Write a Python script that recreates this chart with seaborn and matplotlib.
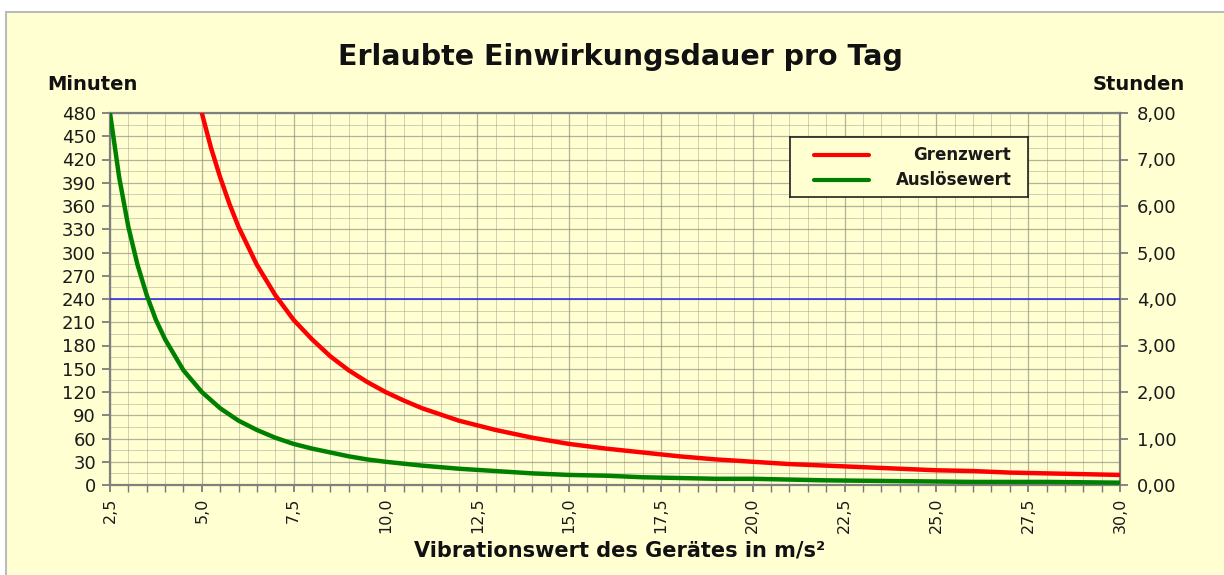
"""
Erlaubte Einwirkungsdauer pro Tag - Grenzwert / Auslösewert
"""
import numpy as np
import pandas as pd
import matplotlib
matplotlib.use("Agg")
import matplotlib.pyplot as plt
from matplotlib.patches import Rectangle
from matplotlib.ticker import MultipleLocator, FuncFormatter
import seaborn as sns

# Werte (Minuten)
grenz_a = [5.0, 5.25, 5.5, 5.75, 6.0, 6.5, 7.0, 7.5, 8.0, 8.5, 9.0, 9.5, 10.0,
           10.5, 11.0, 11.5, 12.0, 13.0, 14.0, 15.0, 16.0, 17.0, 18.0, 19.0,
           20.0, 21.0, 22.0, 23.0, 24.0, 25.0, 26.0, 27.0, 28.0, 29.0, 30.0]
grenz_min = [480, 435, 397, 363, 333, 284, 245, 213, 188, 166, 148, 133, 120,
             109, 99, 91, 83, 71, 61, 53, 47, 42, 37, 33,
             30, 27, 25, 23, 21, 19, 18, 16, 15, 14, 13]

ausl_a = [2.5, 2.75, 3.0, 3.25, 3.5, 3.75, 4.0, 4.5, 5.0, 5.5, 6.0, 6.5, 7.0,
          7.5, 8.0, 8.5, 9.0, 9.5, 10.0, 11.0, 12.0, 13.0, 14.0, 15.0, 16.0,
          17.0, 18.0, 19.0, 20.0, 22.0, 24.0, 26.0, 28.0, 30.0]
ausl_min = [480, 397, 333, 284, 245, 213, 188, 148, 120, 99, 83, 71, 61,
            53, 47, 42, 37, 33, 30, 25, 21, 18, 15, 13, 12,
            10, 9, 8, 8, 6, 5, 4, 4, 3]

grenze_linie = 240  # 4 Stunden

x_ticks = [2.5, 5.0, 7.5, 10.0, 12.5, 15.0, 17.5, 20.0, 22.5, 25.0, 27.5, 30.0]

BG = "#FFFFD2"
TXT = "#1A1A1A"

sns.set_theme(style="ticks")
plt.rcParams["font.family"] = ["DejaVu Sans"]

df = pd.concat([
    pd.DataFrame({"a": grenz_a, "min": grenz_min, "Reihe": "Grenzwert"}),
    pd.DataFrame({"a": ausl_a, "min": ausl_min, "Reihe": "Auslösewert"}),
])

fig = plt.figure(figsize=(12.24, 5.75), dpi=100, facecolor="white")
fig.patches.append(Rectangle((6 / 1224, -0.01), 1.0, 1 - 12 / 575 + 0.01,
                             transform=fig.transFigure, facecolor=BG,
                             edgecolor="#BBBBBB", linewidth=1.5, zorder=-10))

ax = fig.add_axes([110 / 1224, 1 - 485 / 575, 1010 / 1224, 372 / 575])
ax.set_facecolor(BG)

ax.axhline(grenze_linie, color="#2222EE", linewidth=1.1, zorder=3)
sns.lineplot(data=df, x="a", y="min", hue="Reihe",
             palette={"Grenzwert": "#FF0000", "Auslösewert": "#008000"},
             linewidth=3.2, ax=ax, zorder=4, legend=False)

ax.set_xlim(2.5, 30.0)
ax.set_ylim(0, 480)
ax.set_xticks(x_ticks)
ax.xaxis.set_minor_locator(MultipleLocator(0.5))
ax.yaxis.set_major_locator(MultipleLocator(30))
ax.yaxis.set_minor_locator(MultipleLocator(15))
ax.xaxis.set_major_formatter(FuncFormatter(lambda v, p: f"{v:.1f}".replace(".", ",")))

ax.grid(which="major", color="#8A8A7A", linewidth=0.9, alpha=0.65)
ax.grid(which="minor", color="#9A9A8A", linewidth=0.7, alpha=0.45)
ax.tick_params(axis="x", which="major", labelrotation=90, labelsize=11.5,
               length=5, color="#777777", pad=4, labelcolor=TXT)
ax.tick_params(axis="x", which="minor", length=5, color="#777777")
ax.tick_params(axis="y", which="major", labelsize=13, length=6, color="#777777",
               labelcolor=TXT, pad=4)
ax.tick_params(axis="y", which="minor", length=0)
for s in ["left", "bottom", "right", "top"]:
    ax.spines[s].set_color("#808080")
    ax.spines[s].set_linewidth(1.6)
ax.set_xlabel("")
ax.set_ylabel("")

ax2 = ax.twinx()
ax2.set_ylim(0, 8)
ax2.yaxis.set_major_locator(MultipleLocator(1))
ax2.yaxis.set_major_formatter(FuncFormatter(lambda v, p: f"{v:.2f}".replace(".", ",")))
ax2.tick_params(axis="y", labelsize=13, length=6, color="#777777", pad=6,
                labelcolor=TXT)
for s in ax2.spines.values():
    s.set_visible(False)

# Legende von Hand nachgebaut (Beschriftung rechtsbündig)
leg_ax = fig.add_axes([790 / 1224, 1 - 197 / 575, 238 / 1224, 60 / 575])
leg_ax.set_xlim(0, 1)
leg_ax.set_ylim(0, 1)
leg_ax.set_facecolor(BG)
leg_ax.set_xticks([])
leg_ax.set_yticks([])
for s in leg_ax.spines.values():
    s.set_color("#222222")
    s.set_linewidth(1.2)
leg_ax.plot([0.1, 0.33], [0.7, 0.7], color="#FF0000", linewidth=3)
leg_ax.plot([0.1, 0.33], [0.28, 0.28], color="#008000", linewidth=3)
leg_ax.text(0.93, 0.7, "Grenzwert", ha="right", va="center",
            fontsize=12, fontweight="bold", color=TXT)
leg_ax.text(0.93, 0.28, "Auslösewert", ha="right", va="center",
            fontsize=12, fontweight="bold", color=TXT)

fig.text(620 / 1224, 1 - 57 / 575, "Erlaubte Einwirkungsdauer pro Tag",
         ha="center", va="center", fontsize=20.5, fontweight="bold", color="#111111")
fig.text(92 / 1224, 1 - 85 / 575, "Minuten", ha="center", va="center",
         fontsize=14, fontweight="bold", color="#111111")
fig.text(1139 / 1224, 1 - 85 / 575, "Stunden", ha="center", va="center",
         fontsize=14, fontweight="bold", color="#111111")
fig.text(620 / 1224, 1 - 550 / 575, "Vibrationswert des Gerätes in m/s²",
         ha="center", va="center", fontsize=15, fontweight="bold", color="#111111")

fig.savefig("out.png", dpi=100, facecolor=fig.get_facecolor())
